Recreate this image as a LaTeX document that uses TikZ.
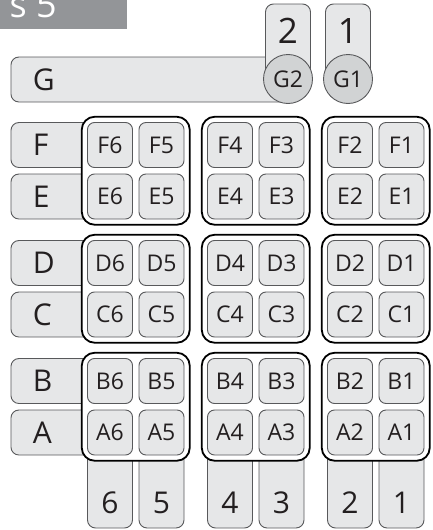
\documentclass[tikz,border=0pt]{standalone}
\usepackage{fontspec}
\setmainfont{Open Sans}
\usetikzlibrary{positioning}
\definecolor{cellgray}{HTML}{E6E7E8}
\definecolor{knobgray}{HTML}{D1D3D4}
\definecolor{edgegray}{HTML}{58595B}
\definecolor{bandgray}{HTML}{939598}
\definecolor{inkgray}{HTML}{231F20}
\tikzset{
  cellbox/.style={draw=edgegray, fill=cellgray, line width=0.9pt, rounded corners=7pt,
    minimum size=45pt, inner sep=0pt, text=inkgray, font=\fontsize{23}{23}\selectfont},
  rowbox/.style={draw=edgegray, fill=cellgray, line width=0.9pt, rounded corners=8pt,
    minimum height=45pt, text width=66pt, inner xsep=22pt, align=left, anchor=west,
    text=inkgray, font=\fontsize{30}{30}\selectfont},
  quadbox/.style={draw=black, fill=white, line width=1.8pt, rounded corners=13pt,
    minimum width=108pt, minimum height=108pt},
  stalk/.style={draw=edgegray, fill=cellgray, line width=0.9pt, rounded corners=8pt,
    minimum width=45pt, inner sep=0pt},
  knob/.style={circle, draw=edgegray, fill=knobgray, line width=0.9pt, minimum size=49pt,
    inner sep=0pt, text=inkgray, font=\fontsize{23}{23}\selectfont},
  digit/.style={inner sep=0pt, text=inkgray, font=\fontsize{30}{30}\selectfont}
}
\begin{document}
\begin{tikzpicture}[x=1pt, y=-1pt, node distance=51.5pt]
  \useasboundingbox (0,0) rectangle (433,530);
  % title band
  \fill[bandgray] (0,0) rectangle (127,29);
  \node[anchor=base east, inner sep=0pt, text=white, font=\fontsize{36}{36}\selectfont] (title) at (57,17) {s 5};
  % G row with the two top keys
  \node[rowbox, text width=233pt] (G) at (10.5,79.5) {G};
  \node[stalk, minimum height=78pt] (T2) at (288,43) {};
  \node[stalk, minimum height=78pt] (T1) at (348,43) {};
  \node[digit, font=\fontsize{35}{35}\selectfont] (t2) at (288,31) {2};
  \node[digit, font=\fontsize{35}{35}\selectfont] (t1) at (348,31) {1};
  \node[knob] (G2) at (288,79) {G2};
  \node[knob] (G1) at (348,79) {G1};
  % row labels
  \node[rowbox] (F) at (10.5,145) {F};
  \node[rowbox] (E) at (10.5,196.5) {E};
  \node[rowbox] (D) at (10.5,263) {D};
  \node[rowbox] (C) at (10.5,314.5) {C};
  \node[rowbox] (B) at (10.5,381) {B};
  \node[rowbox] (A) at (10.5,432.5) {A};
  % column bars
  \node[stalk, minimum height=90pt] (N6) at (110,483) {};
  \node[stalk, minimum height=90pt] (N5) at (161.5,483) {};
  \node[stalk, minimum height=90pt] (N4) at (230,483) {};
  \node[stalk, minimum height=90pt] (N3) at (281.5,483) {};
  \node[stalk, minimum height=90pt] (N2) at (350,483) {};
  \node[stalk, minimum height=90pt] (N1) at (401.5,483) {};
  \node[digit] (n6) at (110,503) {6};
  \node[digit] (n5) at (161.5,503) {5};
  \node[digit] (n4) at (230,503) {4};
  \node[digit] (n3) at (281.5,503) {3};
  \node[digit] (n2) at (350,503) {2};
  \node[digit] (n1) at (401.5,503) {1};
  % groups
  \node[quadbox] (QFE65) at (135.75,170.75) {};
  \node[quadbox] (QFE43) at (255.75,170.75) {};
  \node[quadbox] (QFE21) at (375.75,170.75) {};
  \node[quadbox] (QDC65) at (135.75,288.75) {};
  \node[quadbox] (QDC43) at (255.75,288.75) {};
  \node[quadbox] (QDC21) at (375.75,288.75) {};
  \node[quadbox] (QBA65) at (135.75,406.75) {};
  \node[quadbox] (QBA43) at (255.75,406.75) {};
  \node[quadbox] (QBA21) at (375.75,406.75) {};
  % cells F/E
  \node[cellbox] (F6) at (110,145) {F6};
  \node[cellbox] (F5) [right of=F6] {F5};
  \node[cellbox] (E6) [below of=F6] {E6};
  \node[cellbox] (E5) [right of=E6] {E5};
  \node[cellbox] (F4) at (230,145) {F4};
  \node[cellbox] (F3) [right of=F4] {F3};
  \node[cellbox] (E4) [below of=F4] {E4};
  \node[cellbox] (E3) [right of=E4] {E3};
  \node[cellbox] (F2) at (350,145) {F2};
  \node[cellbox] (F1) [right of=F2] {F1};
  \node[cellbox] (E2) [below of=F2] {E2};
  \node[cellbox] (E1) [right of=E2] {E1};
  % cells D/C
  \node[cellbox] (D6) at (110,263) {D6};
  \node[cellbox] (D5) [right of=D6] {D5};
  \node[cellbox] (C6) [below of=D6] {C6};
  \node[cellbox] (C5) [right of=C6] {C5};
  \node[cellbox] (D4) at (230,263) {D4};
  \node[cellbox] (D3) [right of=D4] {D3};
  \node[cellbox] (C4) [below of=D4] {C4};
  \node[cellbox] (C3) [right of=C4] {C3};
  \node[cellbox] (D2) at (350,263) {D2};
  \node[cellbox] (D1) [right of=D2] {D1};
  \node[cellbox] (C2) [below of=D2] {C2};
  \node[cellbox] (C1) [right of=C2] {C1};
  % cells B/A
  \node[cellbox] (B6) at (110,381) {B6};
  \node[cellbox] (B5) [right of=B6] {B5};
  \node[cellbox] (A6) [below of=B6] {A6};
  \node[cellbox] (A5) [right of=A6] {A5};
  \node[cellbox] (B4) at (230,381) {B4};
  \node[cellbox] (B3) [right of=B4] {B3};
  \node[cellbox] (A4) [below of=B4] {A4};
  \node[cellbox] (A3) [right of=A4] {A3};
  \node[cellbox] (B2) at (350,381) {B2};
  \node[cellbox] (B1) [right of=B2] {B1};
  \node[cellbox] (A2) [below of=B2] {A2};
  \node[cellbox] (A1) [right of=A2] {A1};
\end{tikzpicture}
\end{document}
